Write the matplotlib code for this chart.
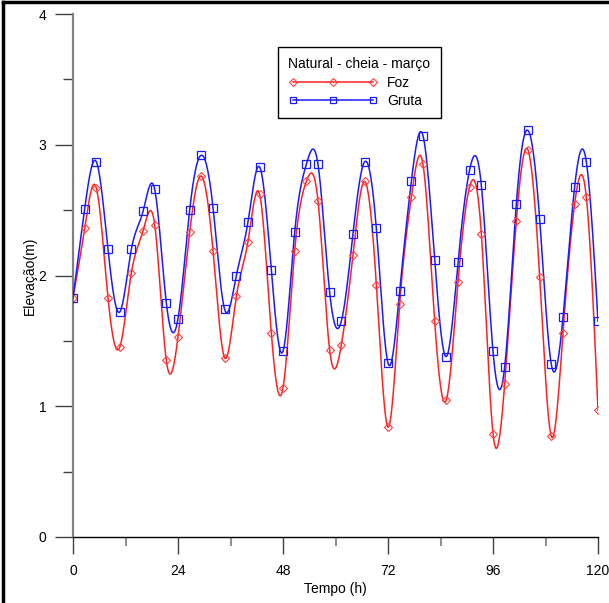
import numpy as np
import matplotlib
matplotlib.use("Agg")
import matplotlib.pyplot as plt
from matplotlib.lines import Line2D

# ---- data ----
t_start, t_end, n_pts = 0, 120, 46
tempo = np.linspace(t_start, t_end, n_pts)

gruta = [1.83, 2.51, 2.87, 2.20, 1.72, 2.20, 2.49, 2.66, 1.79, 1.67,
         2.50, 2.92, 2.52, 1.74, 2.00, 2.41, 2.83, 2.04, 1.42, 2.33,
         2.85, 2.85, 1.87, 1.65, 2.32, 2.87, 2.36, 1.33, 1.88, 2.72,
         3.07, 2.12, 1.38, 2.10, 2.81, 2.69, 1.42, 1.30, 2.55, 3.11,
         2.43, 1.32, 1.68, 2.68, 2.87, 1.65]

foz = [1.83, 2.36, 2.67, 1.83, 1.45, 2.02, 2.34, 2.39, 1.35, 1.53,
       2.33, 2.76, 2.19, 1.37, 1.84, 2.26, 2.62, 1.56, 1.14, 2.19,
       2.72, 2.57, 1.43, 1.47, 2.16, 2.72, 1.93, 0.84, 1.78, 2.60,
       2.85, 1.65, 1.05, 1.95, 2.68, 2.32, 0.79, 1.17, 2.42, 2.96,
       1.99, 0.77, 1.56, 2.55, 2.60, 0.97]

x_ticks = [0, 24, 48, 72, 96, 120]
y_ticks = [0, 1, 2, 3, 4]
legend_title = "Natural - cheia - março"
series_names = ["Foz", "Gruta"]


def natural_spline(x, y, per=20):
    """Smooth 'spline connect' line through the data points (rendering only)."""
    x = np.asarray(x, float)
    y = np.asarray(y, float)
    n = len(x)
    h = np.diff(x)
    A = np.zeros((n, n))
    b = np.zeros(n)
    A[0, 0] = 1
    A[-1, -1] = 1
    for i in range(1, n - 1):
        A[i, i - 1] = h[i - 1]
        A[i, i] = 2 * (h[i - 1] + h[i])
        A[i, i + 1] = h[i]
        b[i] = 6 * ((y[i + 1] - y[i]) / h[i] - (y[i] - y[i - 1]) / h[i - 1])
    M = np.linalg.solve(A, b)
    xs, ys = [], []
    for i in range(n - 1):
        tt = np.linspace(x[i], x[i + 1], per, endpoint=(i == n - 2))
        a = x[i + 1] - tt
        c = tt - x[i]
        yy = (M[i] * a ** 3 + M[i + 1] * c ** 3) / (6 * h[i]) \
            + (y[i] / h[i] - M[i] * h[i] / 6) * a \
            + (y[i + 1] / h[i] - M[i + 1] * h[i] / 6) * c
        xs.append(tt)
        ys.append(yy)
    return np.concatenate(xs), np.concatenate(ys)


plt.rcParams['font.family'] = ['Liberation Sans', 'DejaVu Sans']

W, H = 609, 603
fig = plt.figure(figsize=(W / 100, H / 100), dpi=100)
ax = fig.add_axes([73 / W, 1 - 537 / H, (598 - 73) / W, (537 - 14) / H])

red = '#ff2020'
blue = '#1a1aff'

xf, yf = natural_spline(tempo, foz)
xg, yg = natural_spline(tempo, gruta)
ax.plot(xf, yf, color=red, lw=1.1, zorder=3)
ax.plot(xg, yg, color=blue, lw=1.1, zorder=3)
ax.plot(tempo, foz, ls='none', marker='D', ms=4, mfc='none', mec='#ff4040',
        mew=0.8, zorder=4)
ax.plot(tempo, gruta, ls='none', marker='s', ms=6, mfc='none', mec='#1a1aff',
        mew=0.9, zorder=4)

ax.set_xlim(0, 120)
ax.set_ylim(0, 4)
ax.set_xticks(x_ticks)
ax.set_yticks(y_ticks)
ax.set_xticks(np.arange(12, 120, 24), minor=True)
ax.set_yticks(np.arange(0.5, 4, 1.0), minor=True)
ax.set_xticklabels([str(v) for v in x_ticks], fontsize=10)
ax.set_yticklabels([str(v) for v in y_ticks], fontsize=10)

for s in ['top', 'right']:
    ax.spines[s].set_visible(False)
ax.spines['left'].set_color('#808080')
ax.spines['left'].set_linewidth(1.6)
ax.spines['bottom'].set_color('black')
ax.spines['bottom'].set_linewidth(1)

ax.tick_params(axis='x', which='major', direction='out', length=12.5, width=1,
               color='#404040', pad=7)
ax.tick_params(axis='x', which='minor', direction='out', length=6.5, width=1.5,
               color='#909090')
ax.tick_params(axis='y', which='major', direction='out', length=13, width=1,
               color='#404040', pad=6)
ax.tick_params(axis='y', which='minor', direction='out', length=7, width=1,
               color='#404040')

ax.set_xlabel('Tempo (h)', fontsize=10, labelpad=3)
ax.set_ylabel('Elevação(m)', fontsize=10, labelpad=1)

handles = [
    Line2D([0], [0], color=red, lw=1.1, marker='D', ms=4, mfc='none',
           mec='#ff4040', mew=0.8),
    Line2D([0], [0], color=blue, lw=1.1, marker='s', ms=5, mfc='none',
           mec=blue, mew=0.9),
]
leg = ax.legend(handles, series_names, title=legend_title, numpoints=3,
                handlelength=6.4, handletextpad=0.7, fontsize=10,
                title_fontsize=10, loc='upper left',
                bbox_to_anchor=(278 / W, 1 - 47 / H),
                bbox_transform=fig.transFigure, borderaxespad=0,
                fancybox=False, framealpha=1, edgecolor='black',
                borderpad=0.75, labelspacing=0.3)
leg.get_frame().set_linewidth(1)
leg._legend_box.align = "left"

# outer frame (top and left edges visible in the reference)
fig.add_artist(Line2D([3 / W, 3 / W], [0, 1 - 2 / H], color='black', lw=2.5,
                      transform=fig.transFigure))
fig.add_artist(Line2D([3 / W, 1], [1 - 2 / H, 1 - 2 / H], color='black', lw=2.5,
                      transform=fig.transFigure))

fig.savefig('out.png', dpi=100)
